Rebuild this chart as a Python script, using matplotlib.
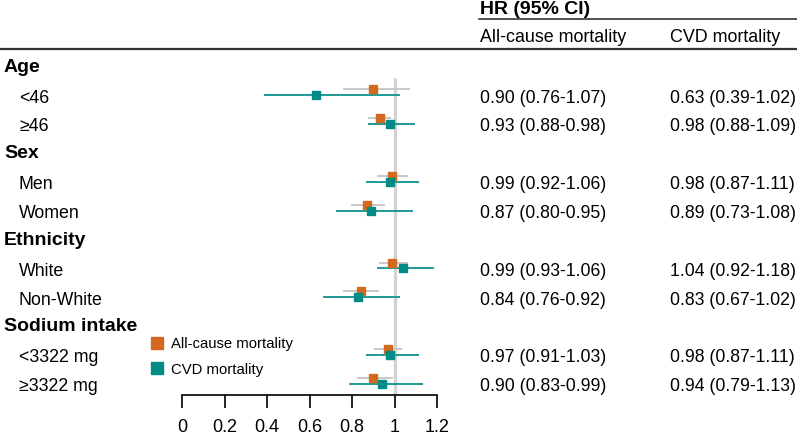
import matplotlib
matplotlib.use("Agg")
import matplotlib.pyplot as plt
from matplotlib.lines import Line2D

plt.rcParams['font.family'] = ['Liberation Sans', 'DejaVu Sans']

# groups and subgroups, top to bottom
groups = ["Age", "Sex", "Ethnicity", "Sodium intake"]
subgroups = [["<46", "≥46"], ["Men", "Women"], ["White", "Non-White"], ["<3322 mg", "≥3322 mg"]]

# hazard ratios and 95% CI
all_hr = [0.90, 0.93, 0.99, 0.87, 0.99, 0.84, 0.97, 0.90]
all_lo = [0.76, 0.88, 0.92, 0.80, 0.93, 0.76, 0.91, 0.83]
all_hi = [1.07, 0.98, 1.06, 0.95, 1.06, 0.92, 1.03, 0.99]
cvd_hr = [0.63, 0.98, 0.98, 0.89, 1.04, 0.83, 0.98, 0.94]
cvd_lo = [0.39, 0.88, 0.87, 0.73, 0.92, 0.67, 0.87, 0.79]
cvd_hi = [1.02, 1.09, 1.11, 1.08, 1.18, 1.02, 1.11, 1.13]

xticks = [0, 0.2, 0.4, 0.6, 0.8, 1, 1.2]
xticklabels = ["0", "0.2", "0.4", "0.6", "0.8", "1", "1.2"]

orange = "#d2691e"
teal = "#008b87"
teal_line = "#1f9a95"
grey_ci = "#c8c8c8"

W, H = 797, 436
fig = plt.figure(figsize=(W / 100, H / 100), dpi=100)

# forest panel: x=0 at px 182, x=1.2 at px 437; top px 55, axis px 395
ax = fig.add_axes([182 / W, (H - 395) / H, (437 - 182) / W, (395 - 55) / H])
ax.set_xlim(0, 1.2)
ax.set_ylim(11.49, -0.295)

# row positions: header, then its two subgroups
header_rows = []
sub_rows = []
r = 0
for g, subs in zip(groups, subgroups):
    header_rows.append(r)
    r += 1
    for s in subs:
        sub_rows.append(r)
        r += 1

ax.plot([1, 1], [0.5, 11.49], color="#d3d3d3", lw=2.4, zorder=1, solid_capstyle="butt")

d = 0.1
for i, y in enumerate(sub_rows):
    ax.plot([all_lo[i], all_hi[i]], [y - d, y - d], color=grey_ci, lw=1.4, zorder=2)
    ax.plot(all_hr[i], y - d, marker="s", color=orange, ms=5.5, zorder=4)
    ax.plot([cvd_lo[i], cvd_hi[i]], [y + d, y + d], color=teal_line, lw=1.4, zorder=3)
    ax.plot(cvd_hr[i], y + d, marker="s", color=teal, ms=5.5, zorder=5)

for sp in ["top", "right", "left"]:
    ax.spines[sp].set_visible(False)
ax.spines["bottom"].set_linewidth(1.2)
ax.set_yticks([])
ax.set_xticks(xticks)
ax.set_xticklabels(xticklabels, fontsize=13)
ax.tick_params(axis="x", direction="out", length=9, width=1.2, pad=8)

# text in pixel coordinates (y from top)
def px(x, y):
    return x / W, 1 - y / H

blend = matplotlib.transforms.blended_transform_factory(fig.transFigure, ax.transData)

for g, y in zip(groups, header_rows):
    fig.text(4 / W, y + 0.13, g, transform=blend, fontsize=14, fontweight="bold", va="center")

labels = [s for subs in subgroups for s in subs]
for i, y in enumerate(sub_rows):
    fig.text(19 / W, y + 0.2, labels[i], transform=blend, fontsize=12.8, va="center")
    fig.text(480 / W, y + 0.2, f"{all_hr[i]:.2f} ({all_lo[i]:.2f}-{all_hi[i]:.2f})",
             transform=blend, fontsize=12.7, va="center")
    fig.text(670 / W, y + 0.2, f"{cvd_hr[i]:.2f} ({cvd_lo[i]:.2f}-{cvd_hi[i]:.2f})",
             transform=blend, fontsize=12.7, va="center")

# table header
fig.text(*px(480, 10), "HR (95% CI)", fontsize=14, fontweight="bold", va="center")
fig.add_artist(Line2D([479 / W, 1], [1 - 19.5 / H] * 2, color="#222222", lw=1.1))
fig.text(*px(480, 37), "All-cause mortality", fontsize=12.9, va="center")
fig.text(*px(670, 37), "CVD mortality", fontsize=12.9, va="center")
fig.add_artist(Line2D([0, 1], [1 - 49.5 / H] * 2, color="#333333", lw=1.6))

handles = [Line2D([], [], ls="none", marker="s", color=orange, ms=8.5),
           Line2D([], [], ls="none", marker="s", color=teal, ms=8.5)]
fig.legend(handles, ["All-cause mortality", "CVD mortality"], loc="upper left",
           bbox_to_anchor=px(132, 324), frameon=False, fontsize=10.7,
           handletextpad=0.25, labelspacing=0.75, handlelength=1.5)

fig.savefig("out.png", dpi=100)
